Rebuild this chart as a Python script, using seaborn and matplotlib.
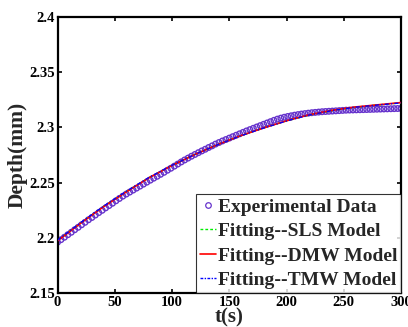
import numpy as np
import pandas as pd
import matplotlib
matplotlib.use("Agg")
import matplotlib.pyplot as plt
import seaborn as sns
from matplotlib.lines import Line2D

# ---- data ----
t_data = list(range(0, 301, 3))
depth_data = [
    2.1960, 2.1983, 2.2005, 2.2028, 2.2050, 2.2073, 2.2095, 2.2118, 2.2140, 2.2163,
    2.2184, 2.2206, 2.2228, 2.2249, 2.2271, 2.2292, 2.2313, 2.2335, 2.2356, 2.2377,
    2.2396, 2.2414, 2.2432, 2.2450, 2.2468, 2.2486, 2.2504, 2.2522, 2.2540, 2.2557,
    2.2575, 2.2593, 2.2612, 2.2630, 2.2649, 2.2668, 2.2687, 2.2705, 2.2722, 2.2739,
    2.2755, 2.2771, 2.2787, 2.2802, 2.2818, 2.2833, 2.2849, 2.2863, 2.2877, 2.2890,
    2.2903, 2.2916, 2.2929, 2.2942, 2.2955, 2.2968, 2.2980, 2.2992, 2.3004, 2.3016,
    2.3028, 2.3040, 2.3052, 2.3064, 2.3075, 2.3084, 2.3092, 2.3099, 2.3105, 2.3111,
    2.3116, 2.3121, 2.3125, 2.3129, 2.3133, 2.3136, 2.3139, 2.3142, 2.3144, 2.3146,
    2.3148, 2.3150, 2.3152, 2.3154, 2.3156, 2.3157, 2.3158, 2.3159, 2.3160, 2.3161,
    2.3162, 2.3163, 2.3164, 2.3165, 2.3166, 2.3167, 2.3168, 2.3169, 2.3170, 2.3171,
    2.3172,
]

t_fit = [0, 20, 40, 60, 80, 100, 120, 140, 160, 180, 200, 220, 240, 260, 280, 300]
sls_fit = [2.1975, 2.2132, 2.2282, 2.2417, 2.2546, 2.2656, 2.2755, 2.2845, 2.2925,
           2.2995, 2.3059, 2.3113, 2.3153, 2.3183, 2.3204, 2.3222]
dmw_fit = [2.1972, 2.2130, 2.2280, 2.2415, 2.2545, 2.2655, 2.2755, 2.2845, 2.2925,
           2.2995, 2.3060, 2.3115, 2.3155, 2.3185, 2.3205, 2.3225]
tmw_fit = [2.1978, 2.2135, 2.2285, 2.2420, 2.2548, 2.2657, 2.2755, 2.2844, 2.2924,
           2.2994, 2.3058, 2.3113, 2.3153, 2.3183, 2.3203, 2.3222]

x_ticks = [0, 50, 100, 150, 200, 250, 300]
y_ticks = [2.15, 2.2, 2.25, 2.3, 2.35, 2.4]
y_tick_labels = ["2.15", "2.2", "2.25", "2.3", "2.35", "2.4"]

labels = ["Experimental Data", "Fitting--SLS Model", "Fitting--DMW Model", "Fitting--TMW Model"]

# ---- plot ----
sns.set_theme(style="ticks")
plt.rcParams["font.family"] = ["Liberation Serif", "DejaVu Serif"]
plt.rcParams["font.weight"] = "bold"

fig = plt.figure(figsize=(4.08, 3.27), dpi=100)
ax = fig.add_axes([0.141, 0.104, 0.842, 0.844])

purple = "#6633cc"
df_data = pd.DataFrame({"t": t_data, "d": depth_data})
sns.scatterplot(data=df_data, x="t", y="d", ax=ax, marker="o", s=16,
                facecolors="none", edgecolor=purple, linewidth=1.0, zorder=2)

df_fit = pd.DataFrame({"t": t_fit, "sls": sls_fit, "dmw": dmw_fit, "tmw": tmw_fit})
sns.lineplot(data=df_fit, x="t", y="sls", ax=ax, color="#00ee00", lw=1.0,
             linestyle=(0, (3, 2)), zorder=3)
sns.lineplot(data=df_fit, x="t", y="dmw", ax=ax, color="#ff0000", lw=1.2, zorder=3)
sns.lineplot(data=df_fit, x="t", y="tmw", ax=ax, color="#0000ff", lw=1.0,
             linestyle=(0, (3, 1.5, 1, 1.5)), zorder=4)

ax.set_xlim(0, 300)
ax.set_ylim(2.15, 2.4)
ax.set_xticks(x_ticks)
ax.set_xticklabels([str(v) for v in x_ticks])
ax.set_yticks(y_ticks)
ax.set_yticklabels(y_tick_labels)
ax.tick_params(direction="in", length=3, width=1.2, top=True, right=True,
               labelsize=10.5, colors="black")
ax.tick_params(axis="x", pad=2)
ax.tick_params(axis="y", pad=2)
for lab in ax.get_xticklabels() + ax.get_yticklabels():
    lab.set_fontweight("bold")
for sp in ax.spines.values():
    sp.set_linewidth(1.6)
    sp.set_color("black")

ax.set_xlabel("t(s)", fontsize=15, fontweight="bold", labelpad=-1)
ax.set_ylabel("Depth(mm)", fontsize=15.5, fontweight="bold", labelpad=1)

handles = [
    Line2D([], [], marker="o", linestyle="none", markerfacecolor="none",
           markeredgecolor=purple, markersize=4, markeredgewidth=0.9),
    Line2D([], [], color="#00ee00", lw=1.0, linestyle=(0, (2, 1.5))),
    Line2D([], [], color="#ff0000", lw=1.2),
    Line2D([], [], color="#0000ff", lw=1.0, linestyle=(0, (2, 1, 1, 1))),
]
leg = ax.legend(handles, labels, loc="lower right", bbox_to_anchor=(1.0, 0.0),
                borderaxespad=0, frameon=True, fancybox=False, handlelength=0.8,
                handletextpad=0.1, borderpad=0.2, labelspacing=0.35,
                prop={"weight": "bold", "size": 14})
leg.get_frame().set_edgecolor("black")
leg.get_frame().set_linewidth(0.8)

fig.savefig("out.png", dpi=100)
